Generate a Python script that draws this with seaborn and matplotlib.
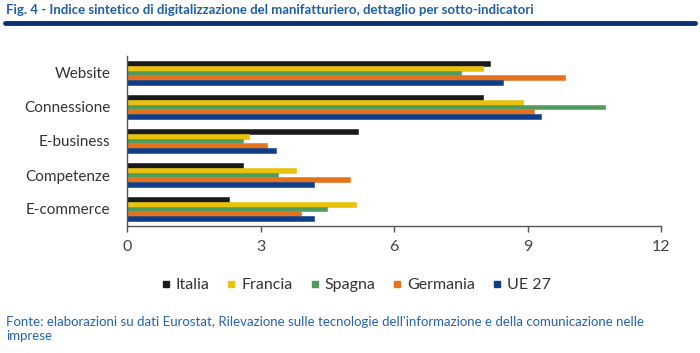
import pandas as pd
import seaborn as sns
import matplotlib.pyplot as plt
from matplotlib.lines import Line2D

# categories and series
categorie = ['Website', 'Connessione', 'E-business', 'Competenze', 'E-commerce']
paesi = ['Italia', 'Francia', 'Spagna', 'Germania', 'UE 27']
italia = [8.15, 8.0, 5.2, 2.6, 2.3]
francia = [8.0, 8.9, 2.75, 3.8, 5.15]
spagna = [7.5, 10.75, 2.6, 3.4, 4.5]
germania = [9.85, 9.15, 3.15, 5.0, 3.9]
ue27 = [8.45, 9.3, 3.35, 4.2, 4.2]
colori = ['#1a1a1a', '#e8c20c', '#4f9a5c', '#e8711c', '#0d3f88']

serie = [italia, francia, spagna, germania, ue27]
df = pd.DataFrame({
    'categoria': [c for s in serie for c in categorie],
    'paese': [p for p, s in zip(paesi, serie) for _ in s],
    'valore': [v for s in serie for v in s],
})

sns.set_theme(style='white')
plt.rcParams['font.family'] = ['Lato', 'DejaVu Sans']

fig = plt.figure(figsize=(7, 3.53), dpi=100)
ax = fig.add_axes([127 / 700, 1 - 226 / 353, (661 - 127) / 700, (226 - 56) / 353])

sns.barplot(data=df, y='categoria', x='valore', hue='paese', orient='h',
            palette=colori, order=categorie, hue_order=paesi,
            width=0.7, saturation=1, legend=False, ax=ax)
# close the hairline gaps between adjacent bars
for p in ax.patches:
    p.set_edgecolor(p.get_facecolor())
    p.set_linewidth(0.4)

ax.set_xlim(0, 12)
ax.set_xticks([0, 3, 6, 9, 12])
ax.set_xlabel('')
ax.set_ylabel('')
for s in ['top', 'right']:
    ax.spines[s].set_visible(False)
for s in ['left', 'bottom']:
    ax.spines[s].set_color('#555555')
    ax.spines[s].set_linewidth(1.0)
ax.tick_params(axis='x', direction='out', length=4, width=1, color='#555555',
               labelsize=11.5, labelcolor='#444444', pad=6, bottom=True)
ax.tick_params(axis='y', length=0, labelsize=11, labelcolor='#333333', pad=12)

# legend
handles = [Line2D([], [], marker='s', linestyle='', color=c, markersize=5) for c in colori]
fig.legend(handles, paesi, loc='center', bbox_to_anchor=(355 / 700, 1 - 285 / 353),
           ncol=5, frameon=False, fontsize=11.5, handlelength=0.8, handletextpad=0.2,
           columnspacing=1.0, labelcolor='#333333')

# title and rule
fig.text(6 / 700, 1 - 10 / 353, 'Fig. 4 - Indice sintetico di digitalizzazione del manifatturiero, '
         'dettaglio per sotto-indicatori', fontsize=9.5, fontweight='bold',
         color='#1f5fa8', va='center', ha='left')
fig.add_artist(Line2D([5 / 700, 695 / 700], [1 - 23 / 353, 1 - 23 / 353],
                      color='#0d3070', linewidth=3.5, transform=fig.transFigure))

# footnote
fig.text(6 / 700, 1 - 329 / 353,
         "Fonte: elaborazioni su dati Eurostat, Rilevazione sulle tecnologie dell'informazione "
         "e della comunicazione nelle\nimprese",
         fontsize=9.5, color='#2563b0', va='center', ha='left', linespacing=1.25)

fig.savefig('out.png', dpi=100)
